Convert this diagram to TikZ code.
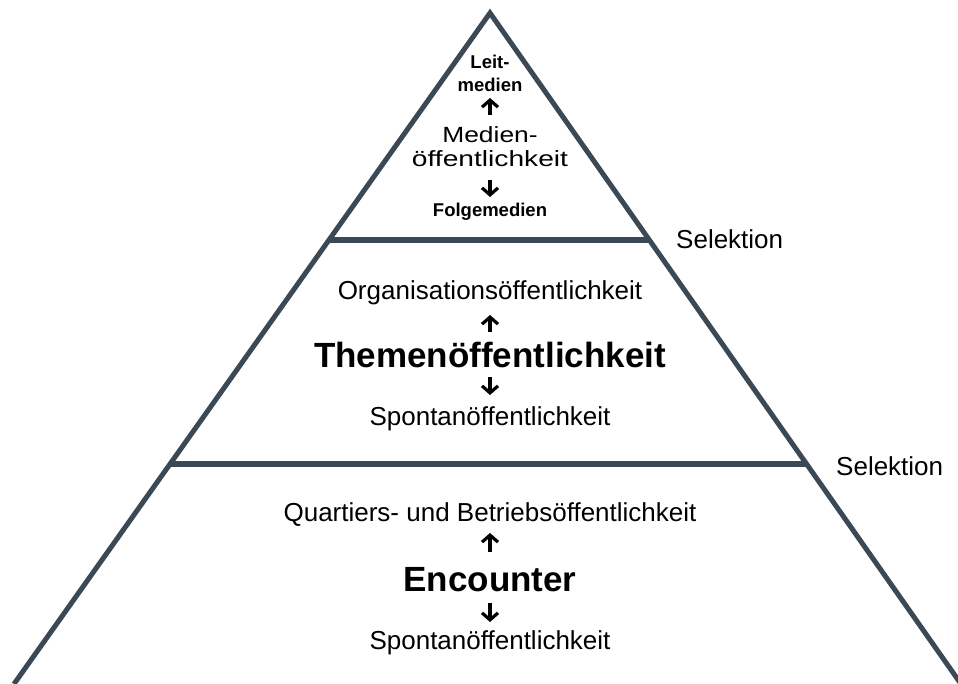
\documentclass[tikz,border=0pt]{standalone}
\usepackage{fontspec}
\setmainfont{Liberation Sans}
\usetikzlibrary{arrows.meta,calc}
\definecolor{edge}{RGB}{59,72,85}
\begin{document}
\begin{tikzpicture}[x=1pt,y=-1pt,
  edgeline/.style={draw=edge,line width=5pt,line join=miter},
  shelf/.style={draw=edge,line width=5.5pt},
  txt/.style={inner sep=0pt,anchor=base,font=\fontsize{26}{28}\selectfont},
  bigtxt/.style={inner sep=0pt,anchor=base,font=\fontsize{35}{38}\selectfont\bfseries},
  toptxt/.style={inner sep=0pt,anchor=base,font=\fontsize{18.5}{20}\selectfont\bfseries},
  midtxt/.style={inner sep=0pt,anchor=base,font=\fontsize{22}{24}\selectfont},
  seltxt/.style={inner sep=0pt,anchor=base west,font=\fontsize{26}{28}\selectfont},
  arr/.style={draw=black,line width=3.2pt,-{Straight Barb[length=7pt,width=16pt,line width=3.2pt]}}
]
\useasboundingbox (0,0) rectangle (958,684);
\coordinate (A) at (490,13);
\coordinate (L) at (14,684);
\coordinate (R) at (961,684);
\draw[edgeline] (L) -- (A) -- (R);
\draw[shelf] ($(A)!0.3383!(L)$) -- ($(A)!0.3383!(R)$);
\draw[shelf] ($(A)!0.6721!(L)$) -- ($(A)!0.6721!(R)$);

% top section
\node[toptxt] (leit) at (490,69) {Leit-};
\node[toptxt] (leitm) at (490,92) {medien};
\node[midtxt] (med) at (490,143) {\scalebox{1.2}[1]{Medien-}};
\node[midtxt] (oeff) at (490,167) {\scalebox{1.28}[1]{öffentlichkeit}};
\node[toptxt] (folge) at (490,217) {Folgemedien};
\draw[arr,shorten <=28pt,shorten >=6pt] (med.base) -- (leitm.base);
\draw[arr,shorten <=13pt,shorten >=20pt] (oeff.base) -- (folge.base);

% middle section
\node[txt] (org) at (490,300) {Organisationsöffentlichkeit};
\node[bigtxt] (them) at (490,367) {Themenöffentlichkeit};
\node[txt] (spont1) at (490,425) {Spontanöffentlichkeit};
\draw[arr,shorten <=35pt,shorten >=15pt] (them.base) -- (org.base);
\draw[arr,shorten <=10pt,shorten >=30pt] (them.base) -- (spont1.base);

% bottom section
\node[txt] (quart) at (490,521) {Quartiers- und Betriebsöffentlichkeit};
\node[bigtxt] (enc) at (490,591) {Encounter};
\node[txt] (spont2) at (490,649) {Spontanöffentlichkeit};
\draw[arr,shorten <=39pt,shorten >=12pt] (enc.base) -- (quart.base);
\draw[arr,shorten <=12pt,shorten >=27pt] (enc.base) -- (spont2.base);

% selection labels
\node[seltxt] (sel1) at (676,248.5) {Selektion};
\node[seltxt] (sel2) at (836,475.5) {Selektion};
\end{tikzpicture}
\end{document}
